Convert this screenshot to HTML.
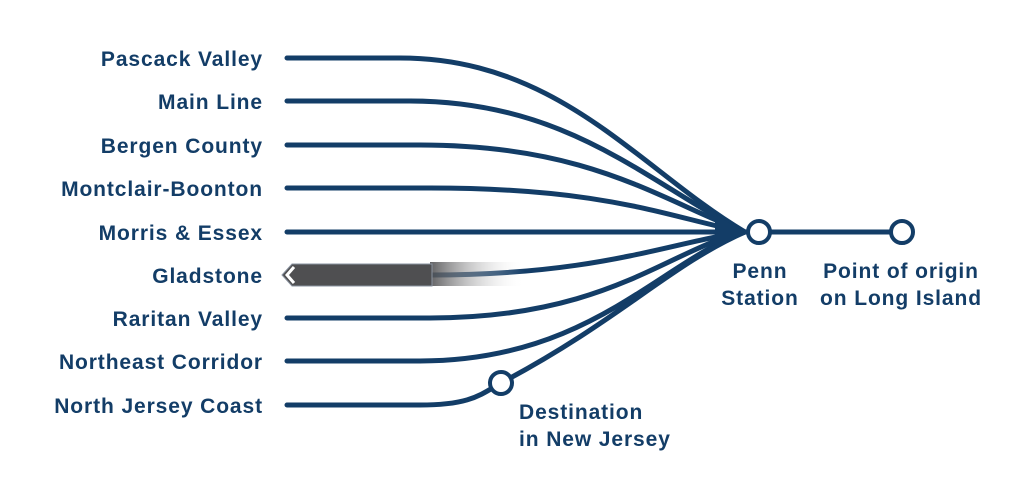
<!DOCTYPE html>
<html><head><style>
html,body{margin:0;padding:0;background:#fff;}
svg{display:block;}
text{font-family:"Liberation Sans",sans-serif;font-weight:bold;font-size:21px;letter-spacing:0.9px;fill:#133d67;}
</style></head><body>
<svg width="1023" height="483" viewBox="0 0 1023 483">
<defs>
<linearGradient id="fade" x1="0" x2="1" y1="0" y2="0">
<stop offset="0" stop-color="#4f4f51" stop-opacity="0.9"/>
<stop offset="1" stop-color="#ffffff" stop-opacity="0"/>
</linearGradient>
</defs>
<g fill="none" stroke="#133d67" stroke-width="5" stroke-linecap="round">
<path d="M287,58 H400 C560,58 640,170 745,232"/>
<path d="M287,101 H410 C570,101 650,185 745,232"/>
<path d="M287,145 H420 C590,145 660,200 745,232"/>
<path d="M287,188 H430 C610,188 670,218 745,232"/>
<path d="M287,232 H745"/>
<path d="M430,275 C600,275 670,242 745,232"/>
<path d="M287,318 H430 C610,318 670,248 745,232"/>
<path d="M287,361 H420 C590,361 660,262 745,232"/>
<path d="M287,405 H420 C470,405 480,395 501,383"/>
<path d="M501,383 C620,320 670,265 745,232"/>
<path d="M759,232 H902"/>
</g>
<path d="M745,232 L715,215 L715,249 Z" fill="#133d67"/>
<rect x="430" y="262" width="95" height="24" fill="url(#fade)"/>
<path d="M282,275 L292,264 H432 V286 H292 Z" fill="#4f4f51" stroke="#8a93a0" stroke-width="1"/>
<path d="M294,267 L287,275 L294,283" fill="none" stroke="#fff" stroke-width="3"/>
<g fill="#fff" stroke="#133d67" stroke-width="4">
<circle cx="759" cy="232" r="11"/>
<circle cx="902" cy="232" r="11"/>
<circle cx="501" cy="383" r="11"/>
</g>
<g text-anchor="end">
<text x="263" y="66">Pascack Valley</text>
<text x="263" y="109">Main Line</text>
<text x="263" y="153">Bergen County</text>
<text x="263" y="196">Montclair-Boonton</text>
<text x="263" y="240">Morris &amp; Essex</text>
<text x="263" y="283">Gladstone</text>
<text x="263" y="326">Raritan Valley</text>
<text x="263" y="369">Northeast Corridor</text>
<text x="263" y="413">North Jersey Coast</text>
</g>
<g text-anchor="middle">
<text x="760" y="278">Penn</text>
<text x="760" y="305">Station</text>
<text x="901" y="278">Point of origin</text>
<text x="901" y="305">on Long Island</text>
</g>
<text x="519" y="419">Destination</text>
<text x="519" y="446">in New Jersey</text>
</svg>
</body></html>
